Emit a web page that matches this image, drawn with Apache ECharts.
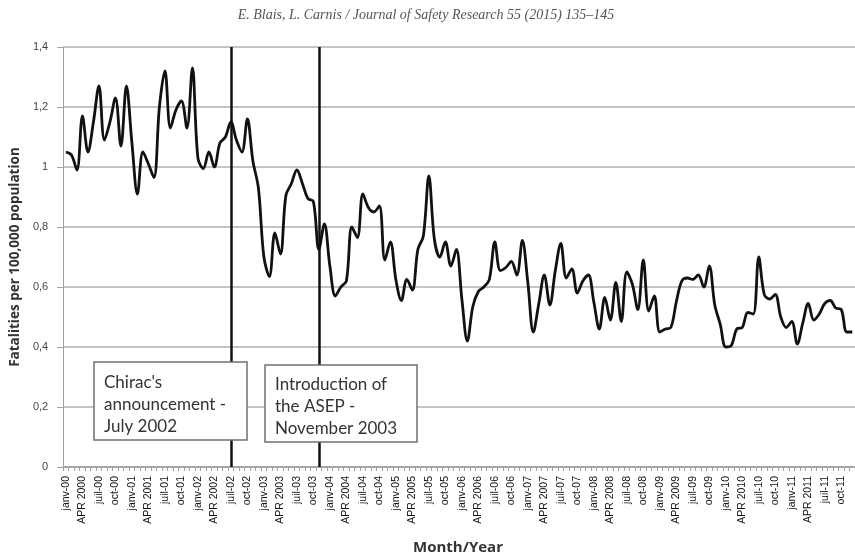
<!DOCTYPE html>
<html><head><meta charset="utf-8">
<script src="https://cdn.jsdelivr.net/npm/echarts@6/dist/echarts.min.js"></script>
<style>html,body{margin:0;padding:0;background:#fff}#c{width:855px;height:558px}</style>
</head><body><div id="c"></div>
<script>
// Month label stems (French Excel format, April shown as "APR yyyy")
const monthLabels = ['janv','févr','mars','APR','mai','juin','juil','août','sept','oct','nov','déc'];
const years = [2000,2001,2002,2003,2004,2005,2006,2007,2008,2009,2010,2011];
// Monthly fatalities per 100,000 population, Jan 2000 – Dec 2011
const fatalities = [
  1.05,1.04,0.99,1.17,1.05,1.15,1.27,1.09,1.15,1.23,1.07,1.27,
  1.08,0.91,1.05,1.01,0.965,1.20,1.32,1.13,1.19,1.22,1.13,1.33,
  1.03,0.995,1.05,1.00,1.08,1.10,1.15,1.09,1.05,1.16,1.02,0.93,
  0.70,0.635,0.78,0.71,0.905,0.945,0.99,0.945,0.895,0.885,0.725,0.81,
  0.67,0.57,0.60,0.62,0.80,0.765,0.91,0.865,0.85,0.87,0.69,0.75,
  0.625,0.555,0.625,0.59,0.725,0.77,0.97,0.76,0.70,0.75,0.67,0.725,
  0.56,0.42,0.535,0.585,0.60,0.625,0.75,0.655,0.665,0.685,0.64,0.755,
  0.615,0.45,0.545,0.64,0.54,0.655,0.745,0.63,0.66,0.58,0.62,0.64,
  0.55,0.46,0.565,0.49,0.615,0.485,0.65,0.61,0.525,0.69,0.52,0.57,
  0.45,0.46,0.465,0.55,0.62,0.63,0.625,0.64,0.60,0.67,0.54,0.475,
  0.40,0.405,0.46,0.465,0.515,0.51,0.70,0.575,0.56,0.575,0.50,0.465,
  0.485,0.41,0.48,0.545,0.49,0.51,0.545,0.555,0.53,0.525,0.45,0.45
];
// Event markers (category where the vertical line is drawn) and their notes
const eventMonths = ['juil-02','nov-03'];
const eventNotes = ["Chirac's\nannouncement -\nJuly 2002", "Introduction of\nthe ASEP -\nNovember 2003"];
const headerText = 'E. Blais, L. Carnis / Journal of Safety Research 55 (2015) 135–145';
const yTitle = 'Fatalities per 100,000 population';
const xTitle = 'Month/Year';

const categories = [];
years.forEach(y => monthLabels.forEach(m => {
  categories.push(m === 'APR' ? 'APR ' + y : m + '-' + String(y).slice(2));
}));

const chart = echarts.init(document.getElementById('c'), null, {renderer:'canvas'});
const nCat = categories.length;
const option = {
  animation: false,
  backgroundColor: '#fff',
  grid: {left: 58, top: 47, width: nCat * 5.6, height: 420, containLabel: false},
  xAxis: {
    type: 'category', data: categories, boundaryGap: true,
    axisLine: {lineStyle: {color: '#9a9a9a', width: 1.5}},
    axisTick: {show: true, interval: 0, length: 4, lineStyle: {color: '#a0a0a0'}},
    axisLabel: {interval: 2, rotate: 90, fontSize: 10.5, color: '#111', margin: 9, fontFamily: 'Liberation Sans'},
    splitLine: {show: false}
  },
  yAxis: {
    type: 'value', min: 0, max: 1.4, interval: 0.2,
    name: yTitle, nameLocation: 'middle', nameGap: 36,
    nameTextStyle: {fontSize: 13.5, fontWeight: 'bold', color: '#333', fontFamily: 'Open Sans'},
    axisLine: {show: true, lineStyle: {color: '#a0a0a0'}},
    axisTick: {show: true, length: 6, lineStyle: {color: '#a0a0a0'}},
    axisLabel: {formatter: v => String(+v.toFixed(1)).replace('.', ','), fontSize: 11, color: '#444', margin: 15, fontFamily: 'Liberation Sans'},
    splitLine: {lineStyle: {color: '#c4c4c4', width: 2}}
  },
  series: [{
    type: 'line', data: fatalities, smooth: 0.35, symbol: 'none',
    lineStyle: {color: '#111', width: 2.8},
    markLine: {
      silent: true, symbol: 'none', label: {show: false},
      lineStyle: {color: '#111', width: 2.5, type: 'solid'},
      data: eventMonths.map(m => ({xAxis: m}))
    }
  }],
  graphic: [
    {type: 'text', z: 100, style: {text: headerText, x: 426, y: 15, textAlign: 'center', textVerticalAlign: 'middle', font: 'italic 14px "Liberation Serif"', fill: '#555'}},
    {type: 'text', z: 100, style: {text: xTitle, x: 458, y: 548, textAlign: 'center', textVerticalAlign: 'middle', font: 'bold 15px "Open Sans"', fill: '#333'}},
    {type: 'rect', z: 100, shape: {x: 94, y: 362, width: 153, height: 78}, style: {fill: '#fff', stroke: '#707070', lineWidth: 1.5}},
    {type: 'text', z: 101, style: {text: eventNotes[0], x: 104, y: 372, textVerticalAlign: 'top', font: '17px Lato', lineHeight: 22, fill: '#333'}},
    {type: 'rect', z: 100, shape: {x: 265, y: 365, width: 152, height: 77}, style: {fill: '#fff', stroke: '#707070', lineWidth: 1.5}},
    {type: 'text', z: 101, style: {text: eventNotes[1], x: 275, y: 374, textVerticalAlign: 'top', font: '17px Lato', lineHeight: 22, fill: '#333'}}
  ]
};
chart.setOption(option);
</script>
</body></html>
